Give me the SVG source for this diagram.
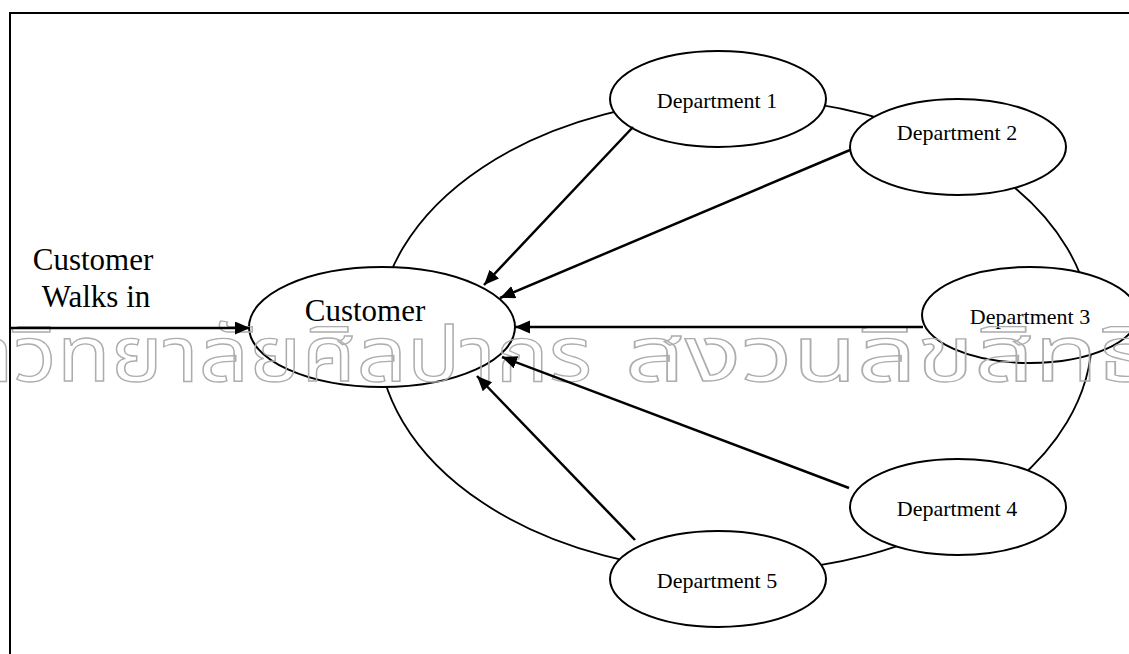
<svg xmlns="http://www.w3.org/2000/svg" width="1129" height="654" viewBox="0 0 1129 654">
  <style>
    .frame { fill: none; stroke: #000; stroke-width: 2; }
    .ring { fill: none; stroke: #000; stroke-width: 1.8; }
    .node { fill: #fff; stroke: #000; stroke-width: 2; }
    .arrow { fill: none; stroke: #000; stroke-width: 2.5; marker-end: url(#head); }
    .dept { font-family: "Liberation Serif", "Times New Roman", serif; font-size: 22px; fill: #000; text-anchor: middle; }
    .big { font-family: "Liberation Serif", "Times New Roman", serif; font-size: 31px; fill: #000; }
    .mark { font-family: "Noto Sans Thai", "Noto Sans", "DejaVu Sans", sans-serif; font-size: 76px; fill: none; stroke: #adadad; stroke-width: 1.3; }
  </style>
  <defs>
    <marker id="head" markerUnits="userSpaceOnUse" markerWidth="16" markerHeight="14" refX="15" refY="6.5" orient="auto">
      <path d="M0,0 L15,6.5 L0,13 z" fill="#000"/>
    </marker>
  </defs>

  <rect width="1129" height="654" fill="#fff"/>
  <!-- page frame -->
  <path class="frame" d="M10,654 V13 H1129"/>

  <!-- ring linking the departments around the customer -->
  <ellipse id="ring" class="ring" cx="735" cy="335" rx="357" ry="237"/>

  <g id="customer">
    <ellipse class="node" cx="382" cy="327" rx="133" ry="60"/>
    <text class="big" x="365" y="321" text-anchor="middle">Customer</text>
  </g>

  <g id="department-1">
    <ellipse class="node" cx="718" cy="99" rx="108" ry="48"/>
    <text class="dept" x="717" y="108">Department 1</text>
  </g>
  <g id="department-2">
    <ellipse class="node" cx="958" cy="147" rx="108" ry="48"/>
    <text class="dept" x="957" y="140">Department 2</text>
  </g>
  <g id="department-3">
    <ellipse class="node" cx="1030" cy="315" rx="108" ry="48"/>
    <text class="dept" x="1030" y="324">Department 3</text>
  </g>
  <g id="department-4">
    <ellipse class="node" cx="958" cy="507" rx="108" ry="48"/>
    <text class="dept" x="957" y="516">Department 4</text>
  </g>
  <g id="department-5">
    <ellipse class="node" cx="718" cy="579" rx="108" ry="48"/>
    <text class="dept" x="717" y="588">Department 5</text>
  </g>

  <g id="walk-in-label">
    <text class="big" x="93" y="270" text-anchor="middle">Customer</text>
    <text class="big" x="96" y="307" text-anchor="middle">Walks in</text>
  </g>

  <!-- outlined institutional mark across the middle -->
  <g id="mark">
    <text class="mark" x="-128" y="381" textLength="720" lengthAdjust="spacingAndGlyphs">มหาวิทยาลัยศิลปากร</text>
    <text class="mark" x="625" y="381" textLength="530" lengthAdjust="spacingAndGlyphs">สงวนลิขสิทธิ์</text>
  </g>

  <g id="connectors">
    <line class="arrow" x1="10" y1="328" x2="250" y2="328"/>
    <line class="arrow" x1="633" y1="127" x2="484" y2="285"/>
    <line class="arrow" x1="850" y1="150" x2="500" y2="298"/>
    <line class="arrow" x1="923" y1="327" x2="515" y2="327"/>
    <line class="arrow" x1="849" y1="488" x2="502" y2="357"/>
    <line class="arrow" x1="635" y1="540" x2="477" y2="376"/>
  </g>
</svg>
